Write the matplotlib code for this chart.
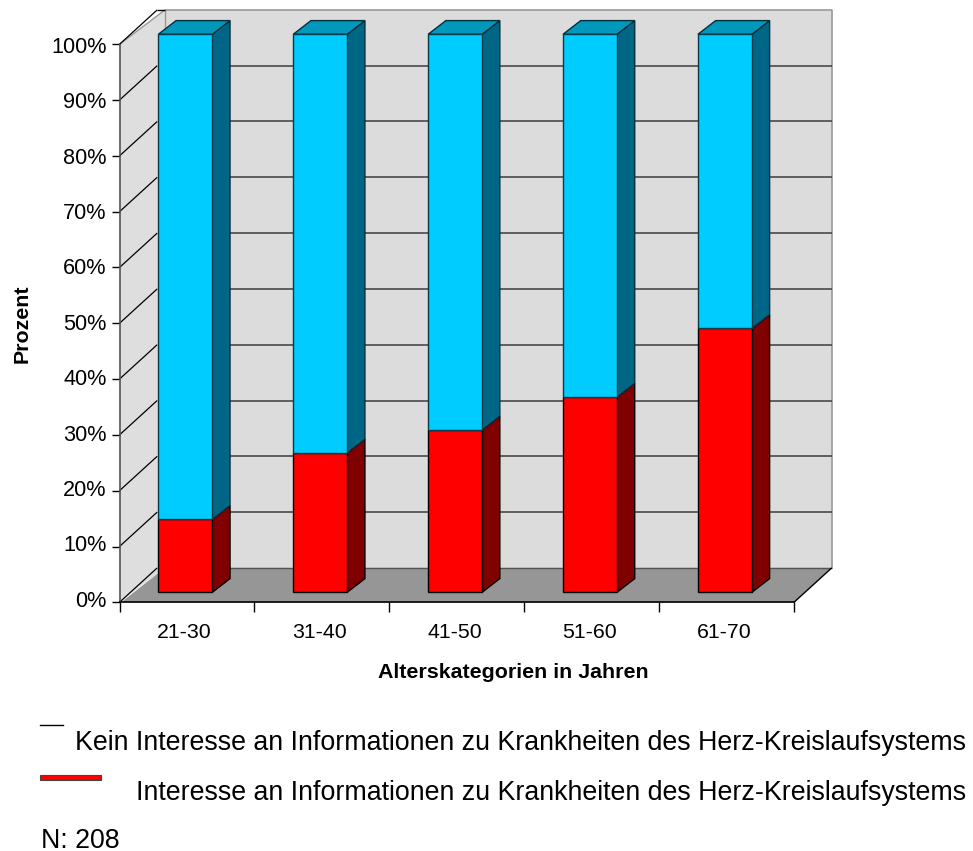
import matplotlib
matplotlib.use('Agg')
import matplotlib.pyplot as plt
from matplotlib.patches import Polygon

plt.rcParams['font.family'] = ['Liberation Sans', 'DejaVu Sans']

categories = ['21-30', '31-40', '41-50', '51-60', '61-70']
interest = [13.1, 25.0, 29.1, 35.0, 47.3]
no_interest = [86.9, 75.0, 70.9, 65.0, 52.7]
y_ticks = [0, 10, 20, 30, 40, 50, 60, 70, 80, 90, 100]

W, H = 973, 851
left, right, top, bottom = 119.5, 794, 44.3, 602.3

fig = plt.figure(figsize=(W / 100, H / 100), dpi=100)
ax = fig.add_axes([left / W, 1 - bottom / H, (right - left) / W, (bottom - top) / H])
ax.set_xlim(0, len(categories))
ax.set_ylim(0, 100)

# pixel sizes expressed in data units, for the fake 3d depth
px = len(categories) / (right - left)
py = 100 / (bottom - top)
depth_x, depth_y = 37.7 * px, 34.4 * py
wall_x = 45.5 * px
bar_dx, bar_dy = 17.7 * px, 13.7 * py
bar_w = 54.0 * px
lift = 10 * py


def poly(points, face, edge='none', lw=0.0, z=1):
    ax.add_patch(Polygon(points, closed=True, facecolor=face, edgecolor=edge,
                         linewidth=lw, zorder=z, clip_on=False, joinstyle='miter'))


def line(xs, ys, color, lw=1.0, z=2):
    ax.plot(xs, ys, color=color, lw=lw, zorder=z, clip_on=False, solid_capstyle='butt')


# walls and floor
poly([(0, 0), (wall_x, depth_y), (wall_x, 100 + depth_y), (0, 100)], '#dedede', z=1)
poly([(wall_x, depth_y), (5 + depth_x, depth_y), (5 + depth_x, 100 + depth_y),
      (wall_x, 100 + depth_y)], '#dcdcdc', z=1)
poly([(1.6 * px, 0), (wall_x, depth_y), (5 + depth_x, depth_y), (5, 0)], '#969696', z=1)

line([wall_x, 5 + depth_x, 5 + depth_x], [100 + depth_y, 100 + depth_y, depth_y], '#999999', 1.2)
line([wall_x, wall_x], [depth_y, 100 + depth_y], '#999999', 1.0)
line([0, wall_x], [100, 100 + depth_y], '#999999', 1.0)
line([0, 0], [0, 100], '#555555', 1.2, z=3)
line([wall_x, 5 + depth_x], [depth_y, depth_y], '#555555', 1.0)
line([5, 5 + depth_x], [0, depth_y], 'black', 1.0)

# grid on side wall and back wall
for t in y_ticks:
    line([0, depth_x], [t, t + depth_y], 'black', 0.9)
    if t not in (0, 100):
        line([wall_x, 5 + depth_x], [t + depth_y, t + depth_y], '#3c3c3c', 1.1)
line([depth_x, wall_x], [100 + depth_y, 100 + depth_y], 'black', 1.0)

# stacked bars with side and top faces
x = [i + 0.488 for i in range(len(categories))]
ax.bar(x, interest, bar_w, bottom=lift, color='#ff0000', edgecolor='black',
       linewidth=1.0, zorder=5, clip_on=False)
tops = [a + lift for a in interest]
ax.bar(x, no_interest, bar_w, bottom=tops, color='#00ccff', edgecolor='#0a3a4a',
       linewidth=1.0, zorder=5, clip_on=False)

for xc, red, blue in zip(x, interest, no_interest):
    x0, x1 = xc - bar_w / 2, xc + bar_w / 2
    y_red = lift + red
    y_top = y_red + blue
    poly([(x1, lift), (x1 + bar_dx, lift + bar_dy), (x1 + bar_dx, y_red + bar_dy), (x1, y_red)],
         '#800000', 'black', 1.0, 4)
    poly([(x1, y_red), (x1 + bar_dx, y_red + bar_dy), (x1 + bar_dx, y_top + bar_dy), (x1, y_top)],
         '#006685', '#062f3d', 1.0, 4)
    poly([(x0, y_top), (x0 + bar_dx, y_top + bar_dy), (x1 + bar_dx, y_top + bar_dy), (x1, y_top)],
         '#0099bb', '#062f3d', 1.0, 4)

# axes
for name, spine in ax.spines.items():
    spine.set_visible(name == 'bottom')
ax.spines['bottom'].set_linewidth(1.2)
ax.spines['bottom'].set_zorder(6)
ax.patch.set_visible(False)
ax.set_yticks(y_ticks)
ax.set_yticklabels([])
ax.set_xticks(range(len(categories) + 1))
ax.set_xticklabels([])
ax.tick_params(axis='y', length=6, width=1.0)
ax.tick_params(axis='x', length=7, width=1.0)

# labels sit a little tighter than the ticks, so they are placed by hand
for t in y_ticks:
    ax.text(-13 * px, t + (1 - 0.04 * t) * py, '{}%'.format(t), ha='right', va='center', fontsize=15.6)
for xc, label in zip(x, categories):
    ax.text(xc - 0.8 * px, -35.2 * py, label, ha='center', va='baseline', fontsize=15.3)

fig.text(22.5 / W, 1 - 323.5 / H, 'Prozent', rotation=90, ha='center', va='center',
         fontsize=15.4, fontweight='bold')
fig.text(513 / W, 1 - 672 / H, 'Alterskategorien in Jahren', ha='center', va='center',
         fontsize=15.4, fontweight='bold')

# hand-placed legend below the chart
fig.add_artist(plt.Line2D([40 / W, 63 / W], [1 - 725 / H] * 2, color='black', lw=1.0))
fig.add_artist(plt.Rectangle((40 / W, 1 - 779.5 / H), 60.5 / W, 4.5 / H, facecolor='#ff0000',
                             edgecolor='#444444', linewidth=0.8))
fig.text(966 / W, 1 - 750 / H, 'Kein Interesse an Informationen zu Krankheiten des Herz-Kreislaufsystems',
         ha='right', va='baseline', fontsize=19.3)
fig.text(966 / W, 1 - 799.5 / H, 'Interesse an Informationen zu Krankheiten des Herz-Kreislaufsystems',
         ha='right', va='baseline', fontsize=19.3)
fig.text(41 / W, 1 - 848.5 / H, 'N: 208', ha='left', va='baseline', fontsize=19.3)

fig.savefig('out.png', dpi=100)
